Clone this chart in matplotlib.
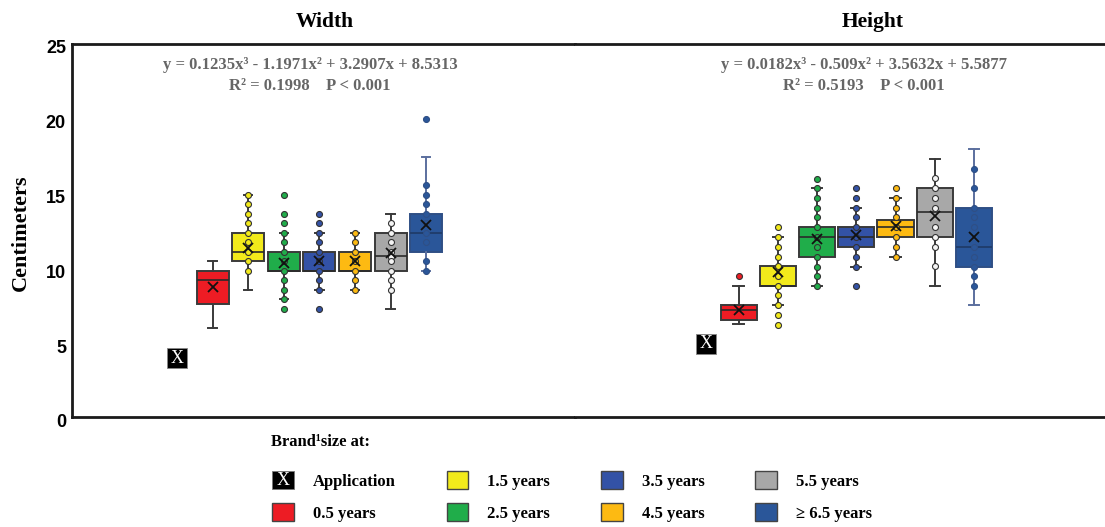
import matplotlib
matplotlib.use("Agg")
import matplotlib.pyplot as plt
import matplotlib.transforms as mtransforms
from matplotlib.patches import Rectangle
from matplotlib.legend_handler import HandlerBase
from matplotlib.text import Text

# ---------------- data ----------------
groups = ["0.5 years", "1.5 years", "2.5 years", "3.5 years", "4.5 years", "5.5 years", "\u2265 6.5 years"]
app_label = "Application"
colors = ["#ED1C24", "#F2EA1B", "#20AD4A", "#3352A6", "#FDBA12", "#A8A8A8", "#2A5699"]
point_face = ["#ED1C24", "#F2EA1B", "#20AD4A", "#3352A6", "#FDBA12", "#F4F4F4", "#2A5699"]

width_app = 4.34
width_lo   = [6.35, 8.89, 8.26, 8.89, 8.89, 7.62, 10.16]
width_q1   = [7.94, 10.80, 10.16, 10.16, 10.16, 10.16, 11.43]
width_med  = [9.53, 11.43, 10.16, 10.16, 10.16, 11.18, 12.70]
width_q3   = [10.16, 12.70, 11.43, 11.43, 11.43, 12.70, 13.97]
width_hi   = [10.80, 15.24, 12.70, 12.70, 12.70, 13.97, 17.78]
width_mean = [9.11, 11.68, 10.67, 10.80, 10.80, 11.34, 13.24]
width_pts = [
    [],
    [15.24, 14.61, 13.97, 13.34, 12.70, 12.07, 11.43, 10.80, 10.16],
    [15.24, 13.97, 13.34, 12.70, 12.07, 11.43, 10.80, 10.16, 9.53, 8.89, 8.26, 7.62],
    [13.97, 13.34, 12.70, 12.07, 11.43, 10.80, 10.16, 9.53, 8.89, 7.62],
    [12.70, 12.07, 11.43, 10.80, 10.16, 9.53, 8.89],
    [13.34, 12.70, 12.07, 11.43, 11.11, 10.80, 10.16, 9.53, 8.89],
    [20.32, 15.88, 15.24, 14.61, 13.97, 13.34, 12.70, 12.07, 10.80, 10.16],
]

height_app = 5.30
height_lo   = [6.60, 7.89, 9.18, 10.45, 11.12, 9.18, 7.89]
height_q1   = [6.86, 9.18, 11.12, 11.79, 12.43, 12.43, 10.45]
height_med  = [7.58, 9.18, 12.43, 12.43, 13.08, 14.08, 11.79]
height_q3   = [7.88, 10.49, 13.08, 13.08, 13.57, 15.69, 14.39]
height_hi   = [9.18, 12.45, 15.69, 14.39, 15.04, 17.65, 18.32]
height_mean = [7.55, 10.11, 12.30, 12.57, 13.17, 13.84, 12.43]
height_pts = [
    [9.83],
    [13.10, 12.45, 11.79, 11.12, 10.49, 9.83, 9.18, 8.53, 7.89, 7.22, 6.55],
    [16.33, 15.69, 15.04, 14.39, 13.75, 13.08, 12.43, 11.79, 11.12, 10.45, 9.83, 9.18],
    [15.69, 15.04, 14.39, 13.75, 13.08, 12.43, 11.79, 11.12, 10.45, 9.18],
    [15.69, 15.04, 14.39, 13.75, 13.08, 12.43, 11.79, 11.12],
    [16.36, 15.69, 15.04, 14.39, 13.10, 12.45, 11.79, 10.49],
    [17.00, 15.69, 14.39, 13.75, 13.08, 11.79, 11.12, 10.45, 9.83, 9.18],
]

titles = ["Width", "Height"]
equations = ["y = 0.1235x\u00b3 - 1.1971x\u00b2 + 3.2907x + 8.5313",
             "y = 0.0182x\u00b3 - 0.509x\u00b2 + 3.5632x + 5.5877"]
stats_text = ["R\u00b2 = 0.1998    P < 0.001", "R\u00b2 = 0.5193    P < 0.001"]
yticks = [0, 5, 10, 15, 20, 25]
ylabel = "Centimeters"
legend_title = "Brand\u00b9size at:"

# ---------------- style ----------------
SERIF = ["Liberation Serif", "DejaVu Serif"]
SANS = ["Liberation Sans", "DejaVu Sans"]
W, H = 1105, 527
fig = plt.figure(figsize=(W / 100, H / 100), dpi=100)

def fx(px):
    return px / W

def fy(py):
    return 1 - py / H

ax_top, ax_bot = 44, 417
axL = fig.add_axes([fx(72), fy(ax_bot), fx(575 - 72), (ax_bot - ax_top) / H])
axR = fig.add_axes([fx(575), fy(ax_bot), fx(1105 - 575), (ax_bot - ax_top) / H])

panels = [
    dict(ax=axL, app=width_app, lo=width_lo, q1=width_q1, med=width_med, q3=width_q3,
         hi=width_hi, mean=width_mean, pts=width_pts, xlim=(-2.95, 11.18), app_pos=0.0,
         bw=0.9, cw=0.24, title_x=325, eq_x=310),
    dict(ax=axR, app=height_app, lo=height_lo, q1=height_q1, med=height_med, q3=height_q3,
         hi=height_hi, mean=height_mean, pts=height_pts, xlim=(-3.17, 10.34), app_pos=0.16,
         bw=0.92, cw=0.26, title_x=873, eq_x=864),
]

edge = "#3a3a3a"
last_edge = "#5b6f9e"

for i, p in enumerate(panels):
    ax = p["ax"]
    positions = list(range(1, len(groups) + 1))
    stats = []
    for k in range(len(groups)):
        stats.append(dict(med=p["med"][k], q1=p["q1"][k], q3=p["q3"][k],
                          whislo=p["lo"][k], whishi=p["hi"][k], mean=p["mean"][k],
                          fliers=[], label=groups[k]))
    bp = ax.bxp(stats, positions=positions, widths=p["bw"], capwidths=p["cw"],
                patch_artist=True, showmeans=True, showfliers=False,
                boxprops=dict(edgecolor=edge, linewidth=1.4),
                medianprops=dict(color="#2a2a2a", linewidth=1.2),
                whiskerprops=dict(color=edge, linewidth=1.4),
                capprops=dict(color=edge, linewidth=1.4),
                meanprops=dict(marker="x", markeredgecolor="#111111", markersize=7,
                               markeredgewidth=1.3, zorder=5))
    for k, box in enumerate(bp["boxes"]):
        box.set_facecolor(colors[k])
        box.set_zorder(2)
    bp["boxes"][-1].set_edgecolor("#2f4f85")
    for art in bp["whiskers"][-2:] + bp["caps"][-2:]:
        art.set_color(last_edge)
    bp["medians"][-1].set_color("#1f3a66")

    for k, pts in enumerate(p["pts"]):
        if not pts:
            continue
        mec = "#2f4f85" if k == len(groups) - 1 else "#333333"
        ax.plot([positions[k]] * len(pts), pts, "o", ms=4.3, mfc=point_face[k],
                mec=mec, mew=0.8, zorder=4, linestyle="none")

    # application marker
    ax.scatter([p["app_pos"]], [p["app"]], marker="s", s=205, c="black", zorder=5,
               edgecolors="#888888", linewidths=0.6)
    ax.text(p["app_pos"], p["app"], "X", color="white", ha="center", va="center",
            fontsize=13, family=SERIF, zorder=6)

    ax.set_xlim(*p["xlim"])
    ax.set_ylim(0.40, 25.33)
    ax.set_xticks([])
    ax.set_yticks([])
    for s in ["top", "bottom", "left", "right"]:
        ax.spines[s].set_linewidth(2.0)
        ax.spines[s].set_color("#1a1a1a")
    ax.spines["right"].set_visible(False)
    if i == 1:
        ax.spines["left"].set_visible(False)

    fig.text(fx(p["title_x"]), fy(22), titles[i], ha="center", va="center",
             fontsize=15.5, fontweight="bold", family=SERIF)
    fig.text(fx(p["eq_x"]), fy(65), equations[i], ha="center", va="center",
             fontsize=12, fontweight="bold", family=SERIF, color="#666666")
    fig.text(fx(p["eq_x"]), fy(86), stats_text[i], ha="center", va="center",
             fontsize=12, fontweight="bold", family=SERIF, color="#666666")

# y tick labels (drawn manually since labels sit slightly below the frame)
trans = axL.get_yaxis_transform() + mtransforms.ScaledTranslation(-6 / 100, 0, fig.dpi_scale_trans)
for v in yticks:
    axL.text(0, v, str(v), transform=trans, ha="right", va="center", fontsize=13,
             fontweight="bold", family=SANS, clip_on=False)

fig.text(fx(21), fy(233), ylabel, rotation=90, ha="center", va="center",
         fontsize=16, fontweight="bold", family=SERIF)

# ---------------- legend ----------------
class AppHandler(HandlerBase):
    def create_artists(self, legend, orig_handle, xdescent, ydescent, width, height, fontsize, trans):
        r = Rectangle((-xdescent, -ydescent), width, height, facecolor="black",
                      edgecolor="#777777", linewidth=0.6, transform=trans)
        t = Text(-xdescent + width / 2, -ydescent + height / 2, "X", color="white",
                 ha="center", va="center", fontsize=13, family=SERIF, transform=trans)
        return [r, t]

app_handle = Rectangle((0, 0), 1, 1)
handles = [app_handle]
labels = [app_label]
for k in range(len(groups)):
    handles.append(Rectangle((0, 0), 1, 1, facecolor=colors[k], edgecolor="#444444", linewidth=1.0))
    labels.append(groups[k])

leg = fig.legend(handles, labels, ncol=4, loc="upper left",
                 bbox_to_anchor=(fx(272), fy(471)), frameon=False,
                 handler_map={app_handle: AppHandler()},
                 prop=dict(family=SERIF, weight="bold", size=12),
                 handlelength=1.3, handleheight=1.3, handletextpad=1.15,
                 columnspacing=3.05, labelspacing=0.8, borderpad=0, borderaxespad=0)

fig.text(fx(271), fy(442), legend_title, ha="left", va="center", fontsize=12,
         fontweight="bold", family=SERIF)

fig.savefig("out.png", dpi=100)
